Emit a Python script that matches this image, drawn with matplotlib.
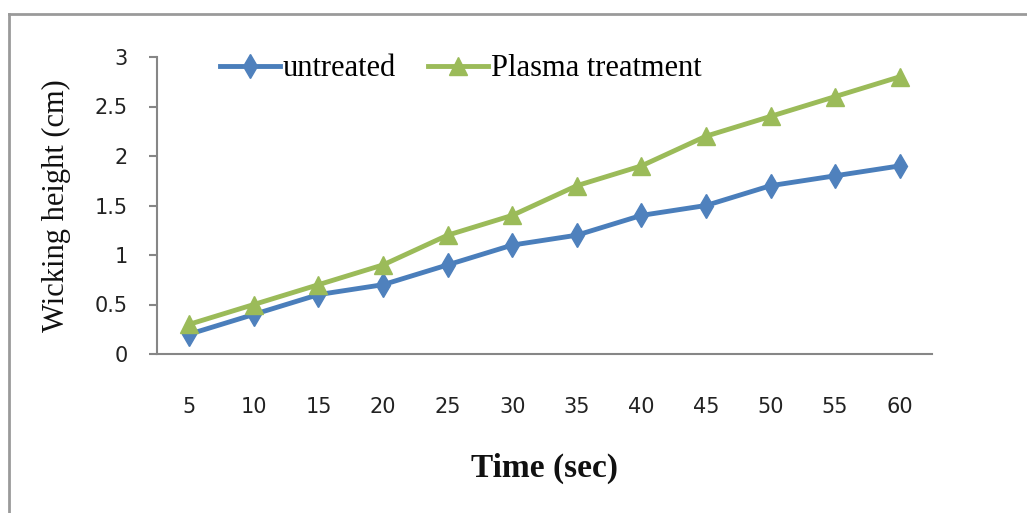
import numpy as np
import matplotlib
matplotlib.use('Agg')
import matplotlib.pyplot as plt
from matplotlib.lines import Line2D

# wicking height vs time
times = [5, 10, 15, 20, 25, 30, 35, 40, 45, 50, 55, 60]
untreated = [0.2, 0.4, 0.6, 0.7, 0.9, 1.1, 1.2, 1.4, 1.5, 1.7, 1.8, 1.9]
plasma = [0.3, 0.5, 0.7, 0.9, 1.2, 1.4, 1.7, 1.9, 2.2, 2.4, 2.6, 2.8]
yticks = [0, 0.5, 1, 1.5, 2, 2.5, 3]
ytick_labels = ['0', '0.5', '1', '1.5', '2', '2.5', '3']

BLUE = '#4a7ebb'
GREEN = '#9bbb59'
AXIS_GRAY = '#868686'
SERIF = ['Liberation Serif', 'DejaVu Serif']

fig = plt.figure(figsize=(10.27, 5.13), dpi=100)
ax = fig.add_axes([157 / 1027, 1 - 354 / 513, 775 / 1027, 297 / 513])

pos = np.arange(len(times))
ax.plot(pos, untreated, color=BLUE, lw=3.5, marker='d', ms=12,
        markerfacecolor='#4f81bd', markeredgecolor='#4f81bd', label='untreated')
ax.plot(pos, plasma, color=GREEN, lw=3.5, marker='^', ms=13,
        markerfacecolor=GREEN, markeredgecolor=GREEN, label='Plasma treatment')

ax.set_xlim(-0.5, len(times) - 0.5)
ax.set_ylim(0, 3)
ax.set_xticks(pos)
ax.set_xticklabels([str(t) for t in times])
ax.set_yticks(yticks)
ax.set_yticklabels(ytick_labels)

for side in ['top', 'right']:
    ax.spines[side].set_visible(False)
for side in ['left', 'bottom']:
    ax.spines[side].set_color(AXIS_GRAY)
    ax.spines[side].set_linewidth(1.5)

ax.tick_params(axis='x', length=0, pad=31, labelsize=15, colors='#222222')
ax.tick_params(axis='y', length=6, width=1.5, color=AXIS_GRAY, pad=15,
               labelsize=15, labelcolor='#222222')

ax.set_xlabel('Time (sec)', fontfamily=SERIF, fontsize=24, fontweight='bold',
              labelpad=26, color='#111111')
ax.set_ylabel('Wicking height (cm)', fontfamily=SERIF, fontsize=22,
              labelpad=17, color='#111111')

leg = ax.legend(loc='center left', bbox_to_anchor=(220 / 1027, 1 - 69 / 513),
                bbox_transform=fig.transFigure, ncol=2, frameon=False,
                prop={'family': SERIF, 'size': 22}, handlelength=1.95,
                handletextpad=0.1, columnspacing=1.05, borderpad=0,
                borderaxespad=0)

# outer chart border (top and left edges)
fig.add_artist(Line2D([9 / 1027, 1], [1 - 14 / 513, 1 - 14 / 513],
                      transform=fig.transFigure, color='#9a9a9a', lw=2))
fig.add_artist(Line2D([9 / 1027, 9 / 1027], [0, 1 - 14 / 513],
                      transform=fig.transFigure, color='#9a9a9a', lw=2))

fig.savefig('out.png', dpi=100)
